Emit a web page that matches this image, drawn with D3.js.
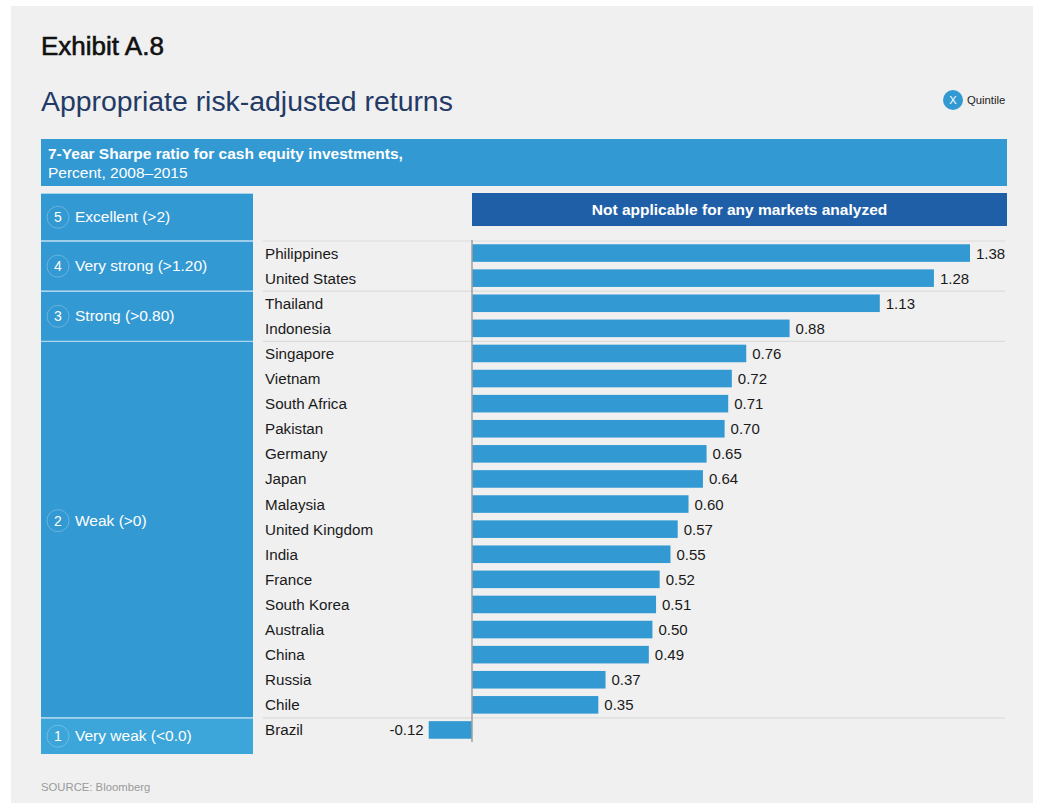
<!DOCTYPE html>
<html lang="en">
<head>
<meta charset="UTF-8">
<title>Exhibit A.8</title>
<style>
  body { margin: 0; background: #fff; }
  svg { display: block; font-family: "Liberation Sans", Arial, sans-serif; }
</style>
</head>
<body>
<svg></svg>
<script src="https://d3js.org/d3.v7.min.js"></script>
<script>
// data
const countries = ["Philippines", "United States", "Thailand", "Indonesia", "Singapore", "Vietnam",
  "South Africa", "Pakistan", "Germany", "Japan", "Malaysia", "United Kingdom", "India", "France",
  "South Korea", "Australia", "China", "Russia", "Chile", "Brazil"];
const sharpe = [1.38, 1.28, 1.13, 0.88, 0.76, 0.72, 0.71, 0.70, 0.65, 0.64, 0.60, 0.57, 0.55, 0.52,
  0.51, 0.50, 0.49, 0.37, 0.35, -0.12];
const quintileOf = [4, 4, 3, 3, 2, 2, 2, 2, 2, 2, 2, 2, 2, 2, 2, 2, 2, 2, 2, 1];
const quintiles = [5, 4, 3, 2, 1];
const quintileLabels = ["Excellent (>2)", "Very strong (>1.20)", "Strong (>0.80)", "Weak (>0)", "Very weak (<0.0)"];

const width = 1038, height = 803;
const blue = "#3399d3";

const svg = d3.select("svg").attr("width", width).attr("height", height);

// panel
svg.append("rect").attr("x", 11).attr("y", 6).attr("width", 1022).attr("height", 797).attr("fill", "#f0f0f0");

// medium-weight look: regular face with a thin outline
svg.append("text").attr("x", 41).attr("y", 55).attr("font-size", 26)
  .attr("fill", "#111").attr("stroke", "#111").attr("stroke-width", 0.6).text("Exhibit A.8");
svg.append("text").attr("x", 41).attr("y", 111).attr("font-size", 28.4)
  .attr("fill", "#233a66").text("Appropriate risk-adjusted returns");

// quintile legend
svg.append("circle").attr("cx", 953).attr("cy", 100).attr("r", 10).attr("fill", blue);
svg.append("text").attr("x", 953).attr("y", 104).attr("text-anchor", "middle").attr("font-size", 11)
  .attr("fill", "#fff").text("X");
svg.append("text").attr("x", 967).attr("y", 104).attr("font-size", 11.3).attr("fill", "#222").text("Quintile");

// header band
svg.append("rect").attr("x", 41).attr("y", 139).attr("width", 966).attr("height", 47).attr("fill", blue);
svg.append("text").attr("x", 48).attr("y", 159).attr("font-size", 15.5).attr("font-weight", "bold")
  .attr("fill", "#fff").text("7-Year Sharpe ratio for cash equity investments,");
svg.append("text").attr("x", 48).attr("y", 178).attr("font-size", 15.5)
  .attr("fill", "#fff").text("Percent, 2008\u20132015");

// scales
const y = d3.scaleBand().domain(countries).range([240.5, 742.5]).paddingInner(0.3).paddingOuter(0.15);
const step = y.step();
const x = d3.scaleLinear().domain([d3.min(sharpe), d3.max(sharpe)]).range([428.7, 970]);

const rowTop = c => y(c) - y.paddingInner() * step / 2;

// quintile boxes on the left
const boxes = quintiles.map((q, i) => {
  const members = countries.filter((c, j) => quintileOf[j] === q);
  let top, bottom;
  if (members.length === 0) { top = 193; bottom = rowTop(countries[0]); }
  else {
    top = rowTop(members[0]);
    bottom = rowTop(members[members.length - 1]) + step;
  }
  if (q === 1) bottom = 754;
  return { q, label: quintileLabels[i], top, bottom, members };
});
// the tall box puts its label a little above the middle
const labelY = d => (d.top + d.bottom) / 2 + (d.members.length > 5 ? -9 : 0);

const qg = svg.append("g").selectAll("g").data(boxes).join("g");
qg.append("rect").attr("x", 41).attr("width", 212)
  .attr("y", d => d.top + 1).attr("height", d => d.bottom - d.top - 1)
  .attr("fill", d => d.q === 1 ? "#3ca5d9" : blue);
qg.append("line").attr("x1", 41).attr("x2", 253).attr("y1", d => d.top + 0.5).attr("y2", d => d.top + 0.5)
  .attr("stroke", "#a8d4ee").attr("stroke-width", 1);
qg.append("circle").attr("cx", 58).attr("cy", d => labelY(d) + 0.5).attr("r", 11)
  .attr("fill", "none").attr("stroke", "rgba(255,255,255,0.25)");
qg.append("text").attr("x", 58).attr("y", d => labelY(d) + 5.5).attr("text-anchor", "middle")
  .attr("font-size", 14).attr("fill", "#fff").text(d => d.q);
qg.append("text").attr("x", 75).attr("y", d => labelY(d) + 5.5)
  .attr("font-size", 15.5).attr("fill", "#fff").text(d => d.label);

// not applicable band
svg.append("rect").attr("x", x(0)).attr("y", 193).attr("width", 1007 - x(0)).attr("height", 33).attr("fill", "#1f5fa8");
svg.append("text").attr("x", (x(0) + 1007) / 2).attr("y", 215).attr("text-anchor", "middle")
  .attr("font-size", 15.5).attr("font-weight", "bold").attr("fill", "#fff")
  .text("Not applicable for any markets analyzed");

// group separators
const seps = boxes.filter(d => d.members.length).map(d => d.top);
svg.append("g").selectAll("line").data(seps).join("line")
  .attr("x1", 263).attr("x2", 1005).attr("y1", d => d + 0.5).attr("y2", d => d + 0.5)
  .attr("stroke", "#dcdcdc").attr("stroke-width", 1.2);

// bars
svg.append("g").selectAll("rect").data(countries).join("rect")
  .attr("x", (c, i) => x(Math.min(0, sharpe[i])))
  .attr("y", c => y(c))
  .attr("width", (c, i) => Math.abs(x(sharpe[i]) - x(0)))
  .attr("height", y.bandwidth())
  .attr("fill", blue);

// zero line
svg.append("line").attr("x1", x(0)).attr("x2", x(0)).attr("y1", 240).attr("y2", 742)
  .attr("stroke", "#a0a0a0").attr("stroke-width", 1.5);

// country labels
svg.append("g").selectAll("text").data(countries).join("text")
  .attr("x", 265).attr("y", c => y(c) + y.bandwidth() / 2 + 5.5)
  .attr("font-size", 15.2).attr("fill", "#1a1a1a").text(c => c);

// value labels
svg.append("g").selectAll("text").data(countries).join("text")
  .attr("x", (c, i) => sharpe[i] < 0 ? x(sharpe[i]) - 5 : x(sharpe[i]) + 6)
  .attr("y", c => y(c) + y.bandwidth() / 2 + 5.5)
  .attr("text-anchor", (c, i) => sharpe[i] < 0 ? "end" : "start")
  .attr("font-size", 15).attr("fill", "#1a1a1a").text((c, i) => sharpe[i].toFixed(2));

// source
svg.append("text").attr("x", 41).attr("y", 791).attr("font-size", 11.3).attr("fill", "#9a9a9a")
  .text("SOURCE: Bloomberg");
</script>
</body>
</html>
